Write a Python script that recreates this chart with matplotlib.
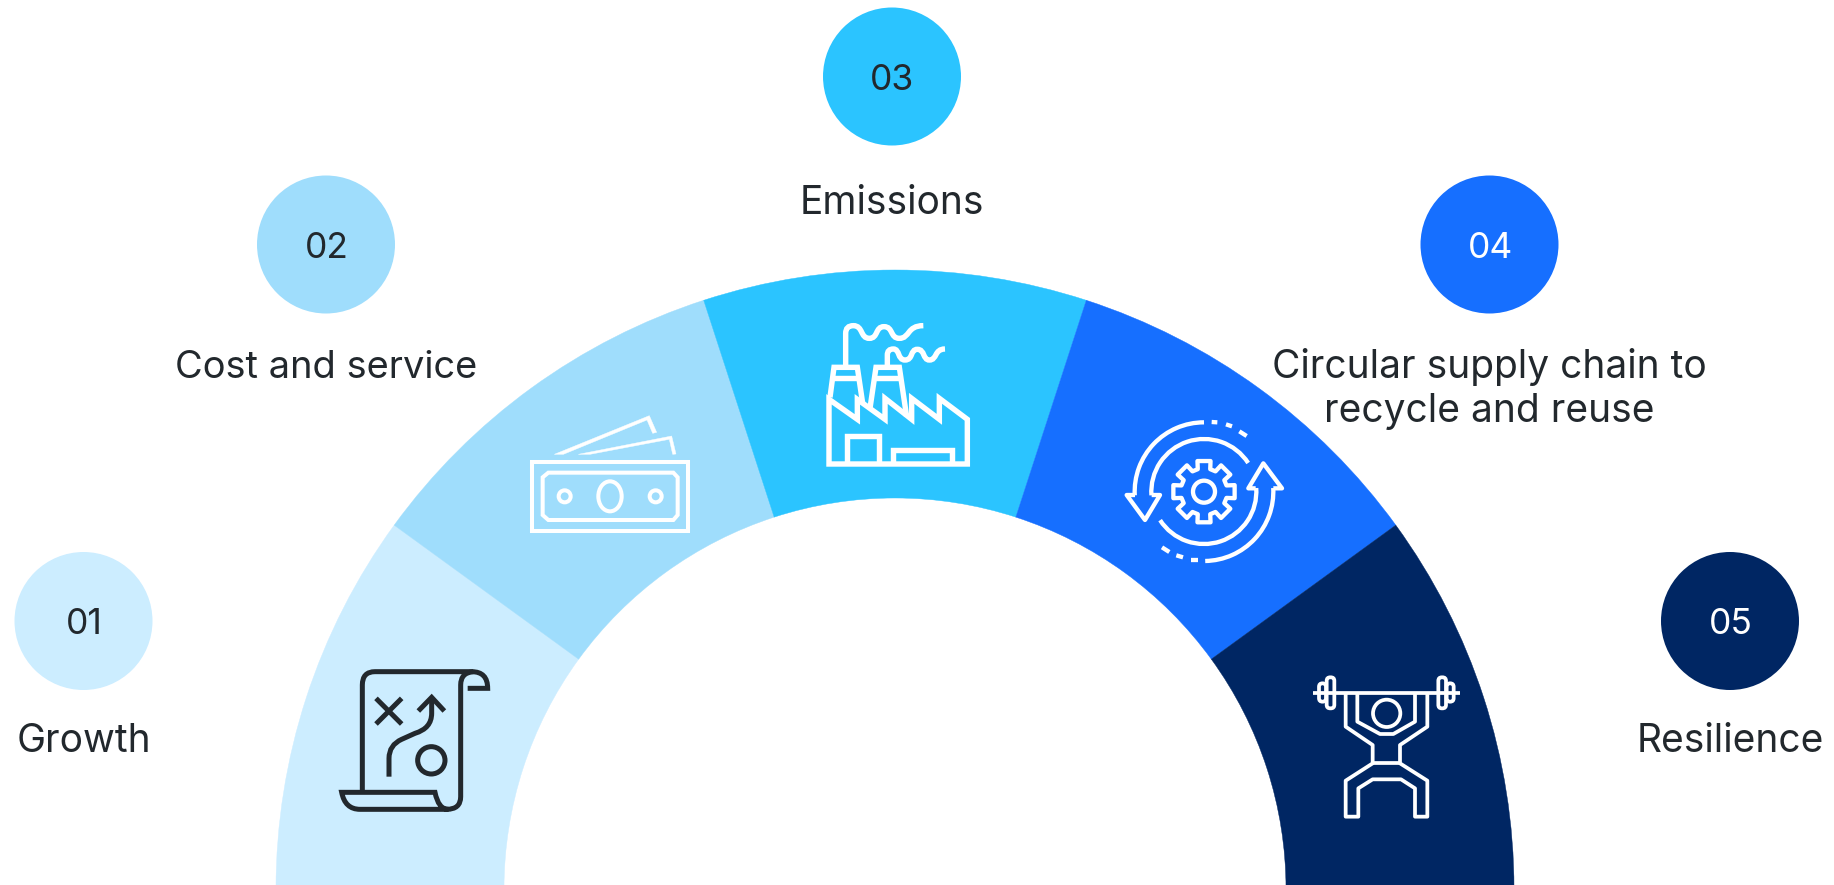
import numpy as np
import matplotlib
matplotlib.use("Agg")
import matplotlib.pyplot as plt
from matplotlib.patches import Wedge, Circle, Ellipse, Arc, PathPatch, FancyBboxPatch
from matplotlib.path import Path

plt.rcParams["font.family"] = ["Inter", "DejaVu Sans"]

# five equal segments, listed left to right
numbers = ["01", "02", "03", "04", "05"]
labels = ["Growth", "Cost and service", "Emissions",
          "Circular supply chain to\nrecycle and reuse", "Resilience"]
shares = [20, 20, 20, 20, 20]
colors = ["#CCEDFF", "#9FDDFC", "#2BC4FF", "#166FFF", "#002663"]
num_colors = ["#22282D", "#22282D", "#22282D", "#FFFFFF", "#FFFFFF"]

TEXT = "#22282D"
WHITE = "#FFFFFF"

fig = plt.figure(figsize=(18.34, 8.85), dpi=100)
ax = fig.add_axes([0, 0, 1, 1])
ax.set_xlim(0, 1834)
ax.set_ylim(885, 0)
ax.set_aspect("equal")
ax.axis("off")

# half ring
cx, cy = 895, 889
r_out, r_in = 619, 391
edges = 180 + np.concatenate([[0], np.cumsum(shares)]) / np.sum(shares) * 180
for i in range(len(shares)):
    ax.add_patch(Wedge((cx, cy), r_out, edges[i], edges[i + 1], width=r_out - r_in,
                       facecolor=colors[i], edgecolor=colors[i], linewidth=0.3))

# badges and captions
badge_x = [83.5, 326, 892, 1489.5, 1730]
badge_y = [621, 244.5, 76.5, 244.5, 621]
label_y = [741, 368, 203, 389, 741]
label_size = [28, 27.4, 28, 28, 28]
for i in range(5):
    ax.add_patch(Circle((badge_x[i], badge_y[i]), 69, facecolor=colors[i], edgecolor="none"))
    ax.text(badge_x[i] + 0.5, badge_y[i], numbers[i], color=num_colors[i], fontsize=25.5,
            ha="center", va="center_baseline")
    ax.text(badge_x[i], label_y[i], labels[i], color=TEXT, fontsize=label_size[i],
            ha="center", va="center", linespacing=1.22)


def parse(d, x0, y0):
    # small path language: M L Q C Z, coordinates are 3x icon units
    tok = d.split()
    verts, codes = [], []
    i = 0
    while i < len(tok):
        c = tok[i]
        i += 1
        if c == "Z":
            verts.append((0, 0))
            codes.append(Path.CLOSEPOLY)
            continue
        n, code = {"M": (1, Path.MOVETO), "L": (1, Path.LINETO),
                   "Q": (2, Path.CURVE3), "C": (3, Path.CURVE4)}[c]
        for _ in range(n):
            verts.append((x0 + float(tok[i]) / 3, y0 + float(tok[i + 1]) / 3))
            codes.append(code)
            i += 2
    return Path(verts, codes)


def stroke(d, x0, y0, color, lw, fill="none", join="miter"):
    ax.add_patch(PathPatch(parse(d, x0, y0), facecolor=fill, edgecolor=color, linewidth=lw,
                           capstyle="butt", joinstyle=join))


def ring(x, y, r, x0, y0, color, lw):
    ax.add_patch(Circle((x0 + x / 3, y0 + y / 3), r / 3, facecolor="none", edgecolor=color, linewidth=lw))


def arc(x, y, r, t1, t2, x0, y0, color, lw):
    ax.add_patch(Arc((x0 + x / 3, y0 + y / 3), 2 * r / 3, 2 * r / 3, theta1=t1, theta2=t2,
                     color=color, linewidth=lw, capstyle="butt"))


# map scroll
x0, y0, lw = 320, 650, 3.6
for d in [
    "M 127 425 L 127 105 Q 127 65 165 65 L 455 65 Q 503 65 503 115 L 443 115",
    "M 460 65 Q 422 68 422 105 L 422 440 Q 422 478 380 478 L 120 478 Q 75 478 65 427 L 345 427 Q 355 478 385 478",
    "M 168 145 L 245 222",
    "M 245 145 L 168 222",
    "M 295 183 L 335 142 L 373 183",
    "M 335 145 L 335 190 Q 335 235 285 250 L 245 268 Q 207 285 207 325 L 207 380",
]:
    stroke(d, x0, y0, TEXT, lw)
ring(334, 331, 41, x0, y0, TEXT, lw)

# banknotes
x0, y0, lw = 510, 400, 2.9
stroke("M 65 185 L 535 185 L 535 393 L 65 393 Z", x0, y0, WHITE, lw)
stroke("M 115 218 L 490 218 L 503 232 L 503 345 L 490 360 L 115 360 L 98 345 L 98 232 Z", x0, y0, WHITE, lw)
ax.add_patch(Ellipse((x0 + 300 / 3, y0 + 289 / 3), 70 / 3, 90 / 3, facecolor="none", edgecolor=WHITE, linewidth=lw))
ring(164, 289, 18, x0, y0, WHITE, lw)
ring(437, 289, 18, x0, y0, WHITE, lw)
for d in [
    "M 133 163 L 160 163 L 411 60 L 428 100 L 440 97 L 418 47 Z",
    "M 205 163 L 240 163 L 478 118 L 488 163 L 498 162 L 485 108 Z",
]:
    stroke(d, x0, y0, WHITE, 0.3, fill=WHITE)

# factory
x0, y0, lw = 810, 310, 3.9
for d in [
    "M 57 462 L 57 268 L 142 328 L 142 268 L 225 328 L 225 265 L 305 328 L 305 265 L 388 328 L 388 265 L 472 328 L 472 462 Z",
    "M 110 462 L 110 378 L 208 378 L 208 462",
    "M 250 462 L 250 420 L 425 420 L 425 462",
    "M 60 262 L 72 172 L 142 172 L 158 280",
    "M 180 295 L 198 172 L 268 172 L 290 320",
    "M 66 205 L 150 205",
    "M 192 205 L 275 205",
    "M 107 170 L 107 70 Q 107 47 130 47 C 160 47 150 85 178 85 C 205 85 195 50 222 50 C 250 50 240 85 268 85 C 300 85 290 47 340 47",
    "M 232 170 L 232 135 Q 232 117 250 117 C 270 117 262 150 285 150 C 310 150 300 118 322 118 C 345 118 338 150 358 150 C 382 150 372 117 405 117",
]:
    stroke(d, x0, y0, WHITE, lw)

# gear with circular arrows
x0, y0, lw = 1110, 400, 3.1
gx, gy = 282, 275
arc(gx, gy, 208, 177, 270, x0, y0, WHITE, lw)
arc(gx, gy, 158, 176, 327, x0, y0, WHITE, lw)
arc(gx, gy, 157, -4, 147, x0, y0, WHITE, lw)
arc(gx, gy, 208, -3, 89, x0, y0, WHITE, lw)
for d in [
    "M 75 285 L 50 285 L 105 360 L 150 285 L 125 285",
    "M 437 265 L 415 265 L 460 190 L 516 265 L 490 265",
    "M 305 66 L 322 67", "M 348 73 L 366 79", "M 388 94 L 410 108",
    "M 243 481 L 263 481", "M 199 466 L 219 472", "M 156 442 L 178 456",
]:
    stroke(d, x0, y0, WHITE, lw, join="round")
ring(gx, gy, 33, x0, y0, WHITE, lw)
teeth = 8
a = []
for k in range(teeth):
    c = -np.pi / 2 + k * 2 * np.pi / teeth
    a += [(70, c - 0.27), (94, c - 0.21), (94, c + 0.21), (70, c + 0.27)]
gear = "M " + " L ".join(f"{gx + r * np.cos(t):.1f} {gy + r * np.sin(t):.1f}" for r, t in a) + " Z"
stroke(gear, x0, y0, WHITE, lw, join="round")

# weightlifter
x0, y0, lw = 1300, 660, 2.7
for d in [
    "M 38 98 L 480 98",
    "M 137 98 L 137 200 L 218 255 L 218 310 L 137 362 L 137 470 L 175 470 L 175 385 L 218 358 L 303 358 L 345 385 L 345 470 L 382 470 L 382 362 L 300 310 L 300 255 L 382 200 L 382 98",
    "M 172 98 L 172 185 L 240 222 L 280 222 L 345 185 L 345 98",
    "M 218 310 L 300 310",
]:
    stroke(d, x0, y0, WHITE, lw, join="round")
ring(260, 160, 41, x0, y0, WHITE, lw)
for px, py, pw, ph in [(80, 52, 23, 93), (57, 70, 21, 55), (415, 52, 23, 93), (440, 70, 21, 55)]:
    ax.add_patch(FancyBboxPatch((x0 + px / 3 + 2, y0 + py / 3 + 2), pw / 3 - 4, ph / 3 - 4,
                                boxstyle="round,pad=2,rounding_size=3.5", facecolor="none",
                                edgecolor=WHITE, linewidth=lw))

fig.savefig("out.png", dpi=100, facecolor="white")
